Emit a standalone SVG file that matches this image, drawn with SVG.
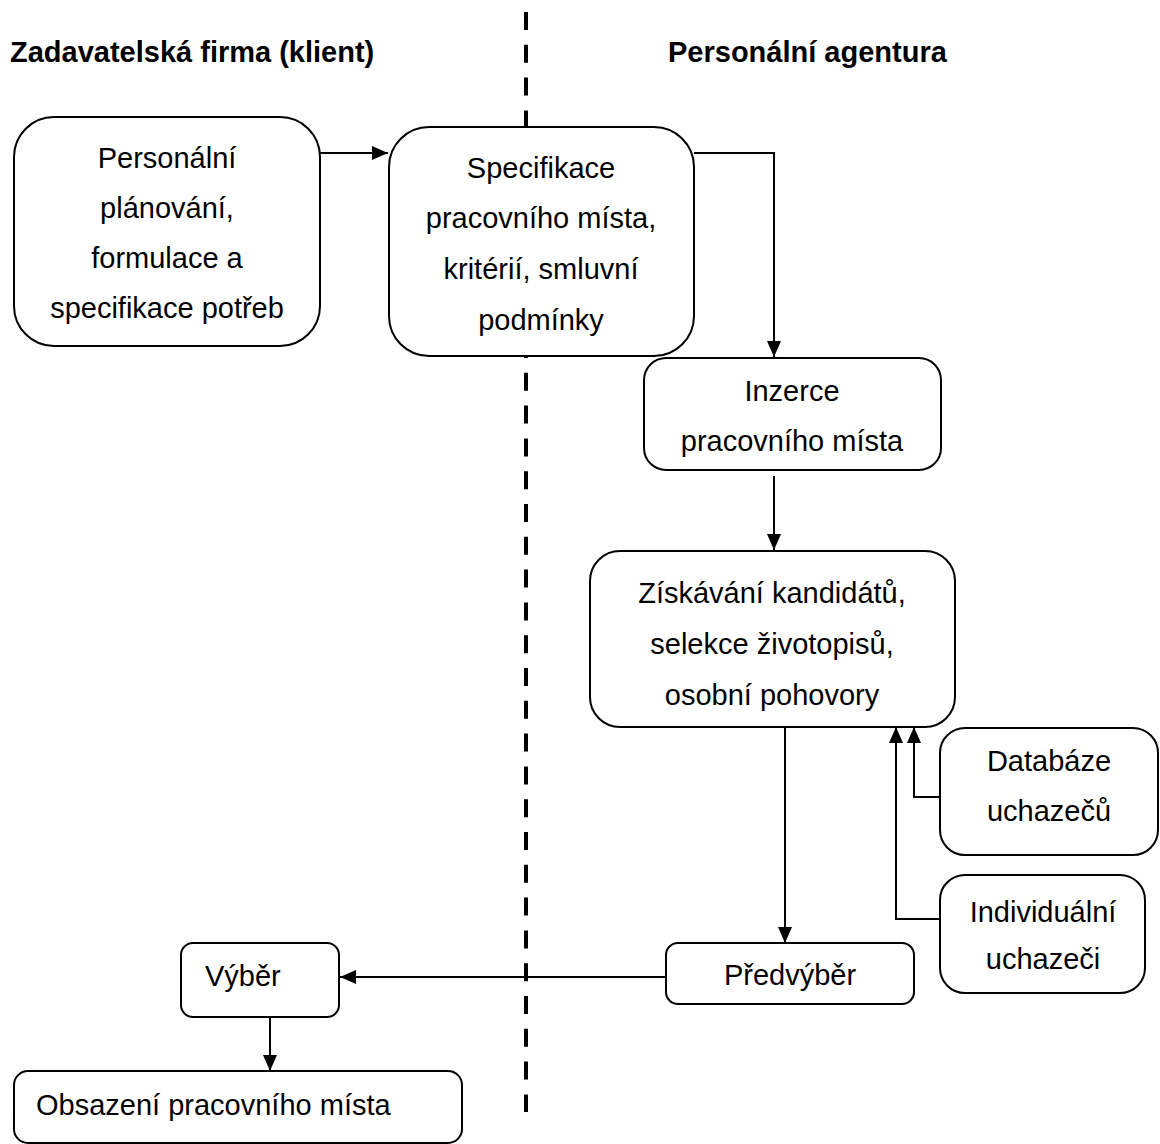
<svg xmlns="http://www.w3.org/2000/svg" width="1160" height="1144" viewBox="0 0 1160 1144">
<style>
  .box { fill: #ffffff; stroke: #000000; stroke-width: 2; }
  .t { font-family: "Liberation Sans", Arial, sans-serif; font-size: 29px; fill: #000000; }
  .c { text-anchor: middle; }
  .h { font-family: "Liberation Sans", Arial, sans-serif; font-size: 29px; font-weight: bold; fill: #000000; }
  .conn { fill: none; stroke: #000000; stroke-width: 2; }
  .divider { fill: none; stroke: #000000; stroke-width: 4; stroke-dasharray: 18 14.8; }
</style>
<defs>
  <marker id="arrow" viewBox="0 0 16 14" refX="16" refY="7" markerWidth="16" markerHeight="14" markerUnits="userSpaceOnUse" orient="auto">
    <path d="M0,0 L16,7 L0,14 Z" fill="#000000"/>
  </marker>
</defs>
<rect width="1160" height="1144" fill="#ffffff"/>

<g id="divider">
  <line class="divider" x1="526" y1="12" x2="526" y2="1112"/>
</g>

<g id="headers">
  <text class="h" x="10" y="62">Zadavatelská firma (klient)</text>
  <text class="h" x="668" y="62">Personální agentura</text>
</g>

<g id="connectors">
  <line class="conn" x1="319" y1="153" x2="388" y2="153" marker-end="url(#arrow)"/>
  <polyline class="conn" points="694,153 774,153 774,357" marker-end="url(#arrow)"/>
  <line class="conn" x1="774" y1="476" x2="774" y2="550" marker-end="url(#arrow)"/>
  <line class="conn" x1="785" y1="727" x2="785" y2="943" marker-end="url(#arrow)"/>
  <line class="conn" x1="666" y1="977" x2="340" y2="977" marker-end="url(#arrow)"/>
  <line class="conn" x1="270" y1="1017" x2="270" y2="1071" marker-end="url(#arrow)"/>
  <polyline class="conn" points="940,797 914,797 914,727" marker-end="url(#arrow)"/>
  <polyline class="conn" points="940,919 896,919 896,727" marker-end="url(#arrow)"/>
</g>

<g id="node-planovani">
  <rect class="box" x="14" y="117" width="306" height="229" rx="40" ry="40"/>
  <text class="t c" x="167" y="168">Personální</text>
  <text class="t c" x="167" y="218">plánování,</text>
  <text class="t c" x="167" y="268">formulace a</text>
  <text class="t c" x="167" y="318">specifikace potřeb</text>
</g>

<g id="node-specifikace">
  <rect class="box" x="389" y="127" width="305" height="229" rx="40" ry="40"/>
  <text class="t c" x="541" y="178">Specifikace</text>
  <text class="t c" x="541" y="228">pracovního místa,</text>
  <text class="t c" x="541" y="279">kritérií, smluvní</text>
  <text class="t c" x="541" y="330">podmínky</text>
</g>

<g id="node-inzerce">
  <rect class="box" x="644" y="358" width="297" height="112" rx="22" ry="22"/>
  <text class="t c" x="792" y="401">Inzerce</text>
  <text class="t c" x="792" y="451">pracovního místa</text>
</g>

<g id="node-ziskavani">
  <rect class="box" x="590" y="551" width="365" height="176" rx="30" ry="30"/>
  <text class="t c" x="772" y="603">Získávání kandidátů,</text>
  <text class="t c" x="772" y="654">selekce životopisů,</text>
  <text class="t c" x="772" y="705">osobní pohovory</text>
</g>

<g id="node-databaze">
  <rect class="box" x="940" y="728" width="218" height="127" rx="25" ry="25"/>
  <text class="t c" x="1049" y="771">Databáze</text>
  <text class="t c" x="1049" y="821">uchazečů</text>
</g>

<g id="node-individualni">
  <rect class="box" x="940" y="875" width="205" height="118" rx="25" ry="25"/>
  <text class="t c" x="1043" y="922">Individuální</text>
  <text class="t c" x="1043" y="969">uchazeči</text>
</g>

<g id="node-predvyber">
  <rect class="box" x="666" y="943" width="248" height="61" rx="12" ry="12"/>
  <text class="t c" x="790" y="985">Předvýběr</text>
</g>

<g id="node-vyber">
  <rect class="box" x="181" y="943" width="158" height="74" rx="12" ry="12"/>
  <text class="t" x="205" y="986">Výběr</text>
</g>

<g id="node-obsazeni">
  <rect class="box" x="14" y="1071" width="448" height="72" rx="14" ry="14"/>
  <text class="t" x="36" y="1115">Obsazení pracovního místa</text>
</g>
</svg>
